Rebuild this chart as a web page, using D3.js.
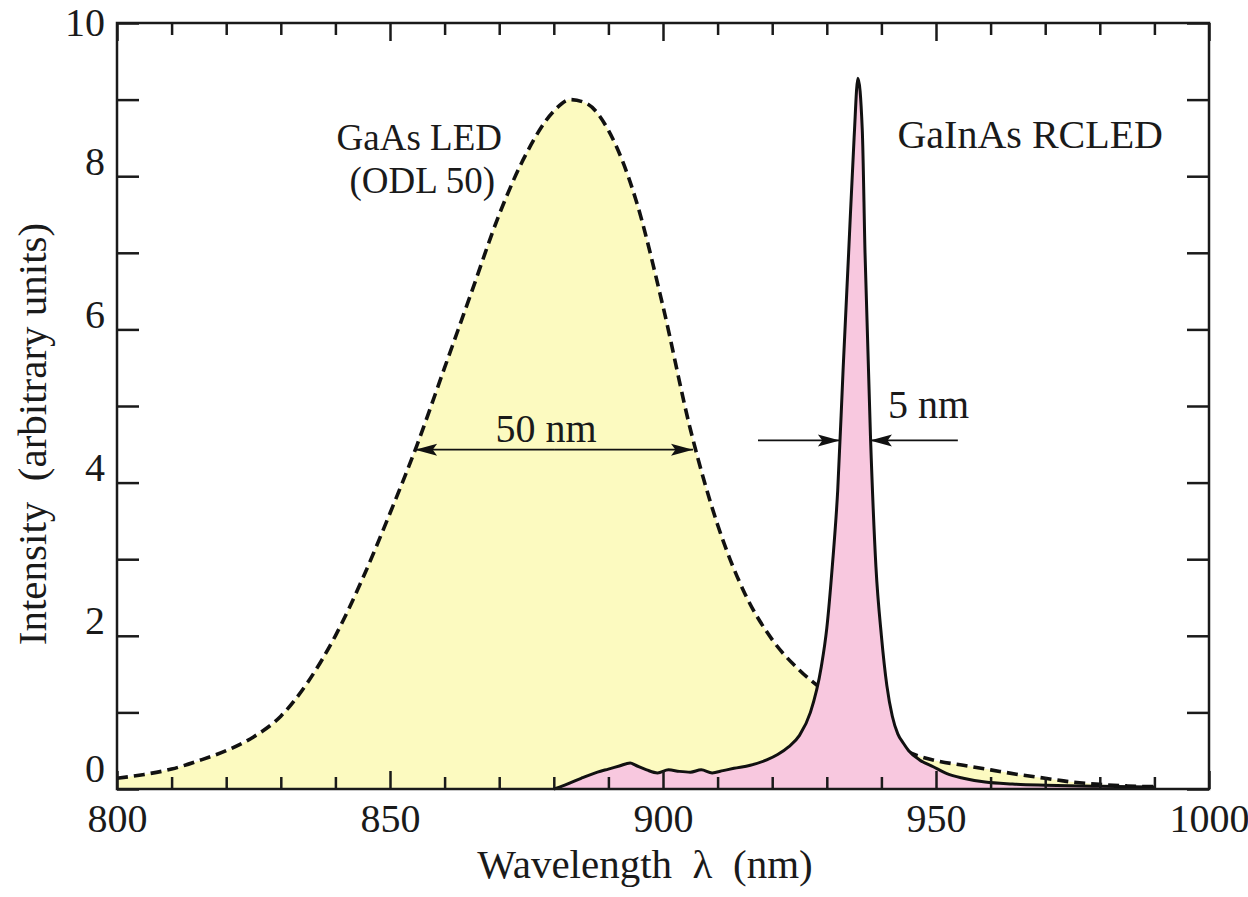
<!DOCTYPE html>
<html>
<head>
<meta charset="utf-8">
<script src="https://cdnjs.cloudflare.com/ajax/libs/d3/7.8.5/d3.min.js"></script>
<style>
  body { margin: 0; background: #fff; }
  text { font-family: "Liberation Serif", "Times New Roman", serif; fill: #1a1a1a; }
</style>
</head>
<body>
<svg id="chart" width="1248" height="897"></svg>
<script>
'use strict';

// GaAs LED spectrum (dashed, yellow)
var gaasWavelength = [800, 805, 810, 815, 820, 825, 830, 835, 840, 845, 850, 855, 860, 865, 870, 875, 880, 883,
    886, 890, 895, 900, 905, 910, 915, 920, 925, 930, 935, 940, 945, 950, 955, 960, 965, 970, 975, 980, 985, 990];
var gaasIntensity = [0.14, 0.19, 0.26, 0.37, 0.50, 0.68, 0.95, 1.40, 2.00, 2.75, 3.60, 4.50, 5.50, 6.50, 7.50, 8.30, 8.85, 9.00,
    8.95, 8.60, 7.70, 6.30, 4.70, 3.45, 2.55, 1.95, 1.55, 1.25, 0.95, 0.68, 0.48, 0.37, 0.31, 0.25, 0.19, 0.14, 0.09, 0.06, 0.04, 0.03];

// GaInAs RCLED spectrum (solid, pink)
var rcledWavelength = [880, 882, 885, 888, 890, 892, 894, 895, 897, 899, 901, 903, 905, 907, 909, 911, 913, 916, 919, 921, 923,
    925, 927, 929, 930, 931, 932, 933, 934, 935, 935.7, 936.5, 937, 938, 939, 940, 941, 942, 943, 944, 945, 947, 949.5,
    952, 955, 959, 964, 970, 980, 990];
var rcledIntensity = [0, 0.05, 0.14, 0.22, 0.26, 0.30, 0.34, 0.31, 0.25, 0.21, 0.25, 0.23, 0.22, 0.25, 0.21, 0.24, 0.27, 0.31, 0.38, 0.45, 0.55,
    0.70, 1.00, 1.60, 2.10, 2.90, 3.90, 5.50, 7.00, 8.50, 9.28, 8.60, 7.00, 4.60, 2.90, 2.00, 1.35, 0.95, 0.72, 0.60, 0.50, 0.38, 0.29,
    0.20, 0.14, 0.09, 0.065, 0.05, 0.035, 0.025];

var xMajorTicks = [800, 850, 900, 950, 1000];
var xMinorTicks = [810, 820, 830, 840, 860, 870, 880, 890, 910, 920, 930, 940, 960, 970, 980, 990];
var yTicks = [0, 1, 2, 3, 4, 5, 6, 7, 8, 9, 10];
var yTickLabels = [0, 2, 4, 6, 8, 10];

(function () {

    var svg = d3.select("#chart");
    svg.append("rect").attr("width", 1248).attr("height", 897).attr("fill", "#fff");

    var plotLeft = 117, plotRight = 1209, plotTop = 23, plotBottom = 789;
    var x = d3.scaleLinear().domain([800, 1000]).range([plotLeft, plotRight]);
    var y = d3.scaleLinear().domain([0, 10]).range([plotBottom, plotTop]);

    function zip(xs, ys) {
        return xs.map(function (d, i) { return [d, ys[i]]; });
    }

    var gaas = zip(gaasWavelength, gaasIntensity);
    var rcled = zip(rcledWavelength, rcledIntensity);

    var area = d3.area()
        .x(function (d) { return x(d[0]); })
        .y0(y(0))
        .y1(function (d) { return y(d[1]); })
        .curve(d3.curveMonotoneX);

    var line = d3.line()
        .x(function (d) { return x(d[0]); })
        .y(function (d) { return y(d[1]); })
        .curve(d3.curveMonotoneX);

    svg.append("path").attr("d", area(gaas)).attr("fill", "#fcfac0");
    svg.append("path").attr("d", line(gaas))
        .attr("fill", "none")
        .attr("stroke", "#111")
        .attr("stroke-width", 3.6)
        .attr("stroke-dasharray", "11,6");

    svg.append("path").attr("d", area(rcled)).attr("fill", "#f8c8df");
    svg.append("path").attr("d", line(rcled))
        .attr("fill", "none")
        .attr("stroke", "#111")
        .attr("stroke-width", 3);

    // axes, ticks pointing inward
    function styleAxis(g) {
        g.select(".domain").remove();
        g.attr("font-family", null);
        g.selectAll(".tick line").attr("stroke", "#1a1a1a").attr("stroke-width", 2.5);
        g.selectAll(".tick text").attr("font-size", 40).attr("fill", "#1a1a1a");
    }

    svg.append("g").attr("transform", "translate(0," + plotBottom + ")")
        .call(d3.axisBottom(x).tickValues(xMinorTicks).tickSize(-12).tickFormat(""))
        .call(styleAxis);
    svg.append("g").attr("transform", "translate(0," + plotBottom + ")")
        .call(d3.axisBottom(x).tickValues(xMajorTicks).tickSize(-18).tickPadding(15).tickFormat(d3.format("d")))
        .call(styleAxis);

    svg.append("g").attr("transform", "translate(0," + plotTop + ")")
        .call(d3.axisTop(x).tickValues(xMinorTicks).tickSize(-12).tickFormat(""))
        .call(styleAxis);
    svg.append("g").attr("transform", "translate(0," + plotTop + ")")
        .call(d3.axisTop(x).tickValues(xMajorTicks).tickSize(-18).tickFormat(""))
        .call(styleAxis);

    var yAxis = svg.append("g").attr("transform", "translate(" + plotLeft + ",0)")
        .call(d3.axisLeft(y).tickValues(yTicks).tickSize(-22).tickPadding(12)
            .tickFormat(function (d) { return yTickLabels.indexOf(d) >= 0 ? d : ""; }))
        .call(styleAxis);
    // labels in the original sit a little above their ticks
    yAxis.selectAll(".tick text").attr("dy", function (d) {
        return d === 10 ? "0.32em" : (d === 0 ? "-0.2em" : "-0.05em");
    });

    svg.append("g").attr("transform", "translate(" + plotRight + ",0)")
        .call(d3.axisRight(y).tickValues(yTicks).tickSize(-22).tickFormat(""))
        .call(styleAxis);

    svg.append("rect")
        .attr("x", plotLeft).attr("y", plotTop)
        .attr("width", plotRight - plotLeft).attr("height", plotBottom - plotTop)
        .attr("fill", "none")
        .attr("stroke", "#1a1a1a")
        .attr("stroke-width", 2.5);

    // axis titles
    svg.append("text")
        .attr("x", 645).attr("y", 878)
        .attr("text-anchor", "middle")
        .attr("font-size", 41)
        .attr("xml:space", "preserve")
        .text("Wavelength  \u03bb  (nm)");

    svg.append("text")
        .attr("transform", "translate(46,434) rotate(-90)")
        .attr("text-anchor", "middle")
        .attr("font-size", 41)
        .attr("xml:space", "preserve")
        .text("Intensity  (arbitrary units)");

    // annotations
    svg.append("text").attr("x", 502).attr("y", 150).attr("text-anchor", "end")
        .attr("font-size", 37).text("GaAs LED");
    svg.append("text").attr("x", 495).attr("y", 193).attr("text-anchor", "end")
        .attr("font-size", 37).text("(ODL 50)");

    svg.append("text").attr("x", 1163).attr("y", 148).attr("text-anchor", "end")
        .attr("font-size", 40).text("GaInAs RCLED");

    function arrowHead(xTip, yTip, dir) {
        var len = 22, half = 6;
        return "M" + xTip + "," + yTip +
            "L" + (xTip - dir * len) + "," + (yTip - half) +
            "L" + (xTip - dir * len * 0.8) + "," + yTip +
            "L" + (xTip - dir * len) + "," + (yTip + half) + "Z";
    }

    function arrow(x1, x2, yv, dir) {
        svg.append("line")
            .attr("x1", x1).attr("x2", x2)
            .attr("y1", yv).attr("y2", yv)
            .attr("stroke", "#111").attr("stroke-width", 1.8);
        svg.append("path").attr("d", arrowHead(x2, yv, dir)).attr("fill", "#111");
    }

    // 50 nm FWHM, double headed
    var y50 = y(4.43);
    var a50 = x(854.6), b50 = x(905.5);
    arrow((a50 + b50) / 2, a50, y50, -1);
    arrow((a50 + b50) / 2, b50, y50, 1);
    svg.append("text").attr("x", x(878.6)).attr("y", y50 - 8).attr("text-anchor", "middle")
        .attr("font-size", 40).text("50 nm");

    // 5 nm FWHM, arrows from outside
    var y5 = y(4.55);
    arrow(x(917.4), x(932.4), y5, 1);
    arrow(x(954), x(937.9), y5, -1);
    svg.append("text").attr("x", x(941.2)).attr("y", y5 - 22)
        .attr("font-size", 40).text("5 nm");

})();
</script>
</body>
</html>
